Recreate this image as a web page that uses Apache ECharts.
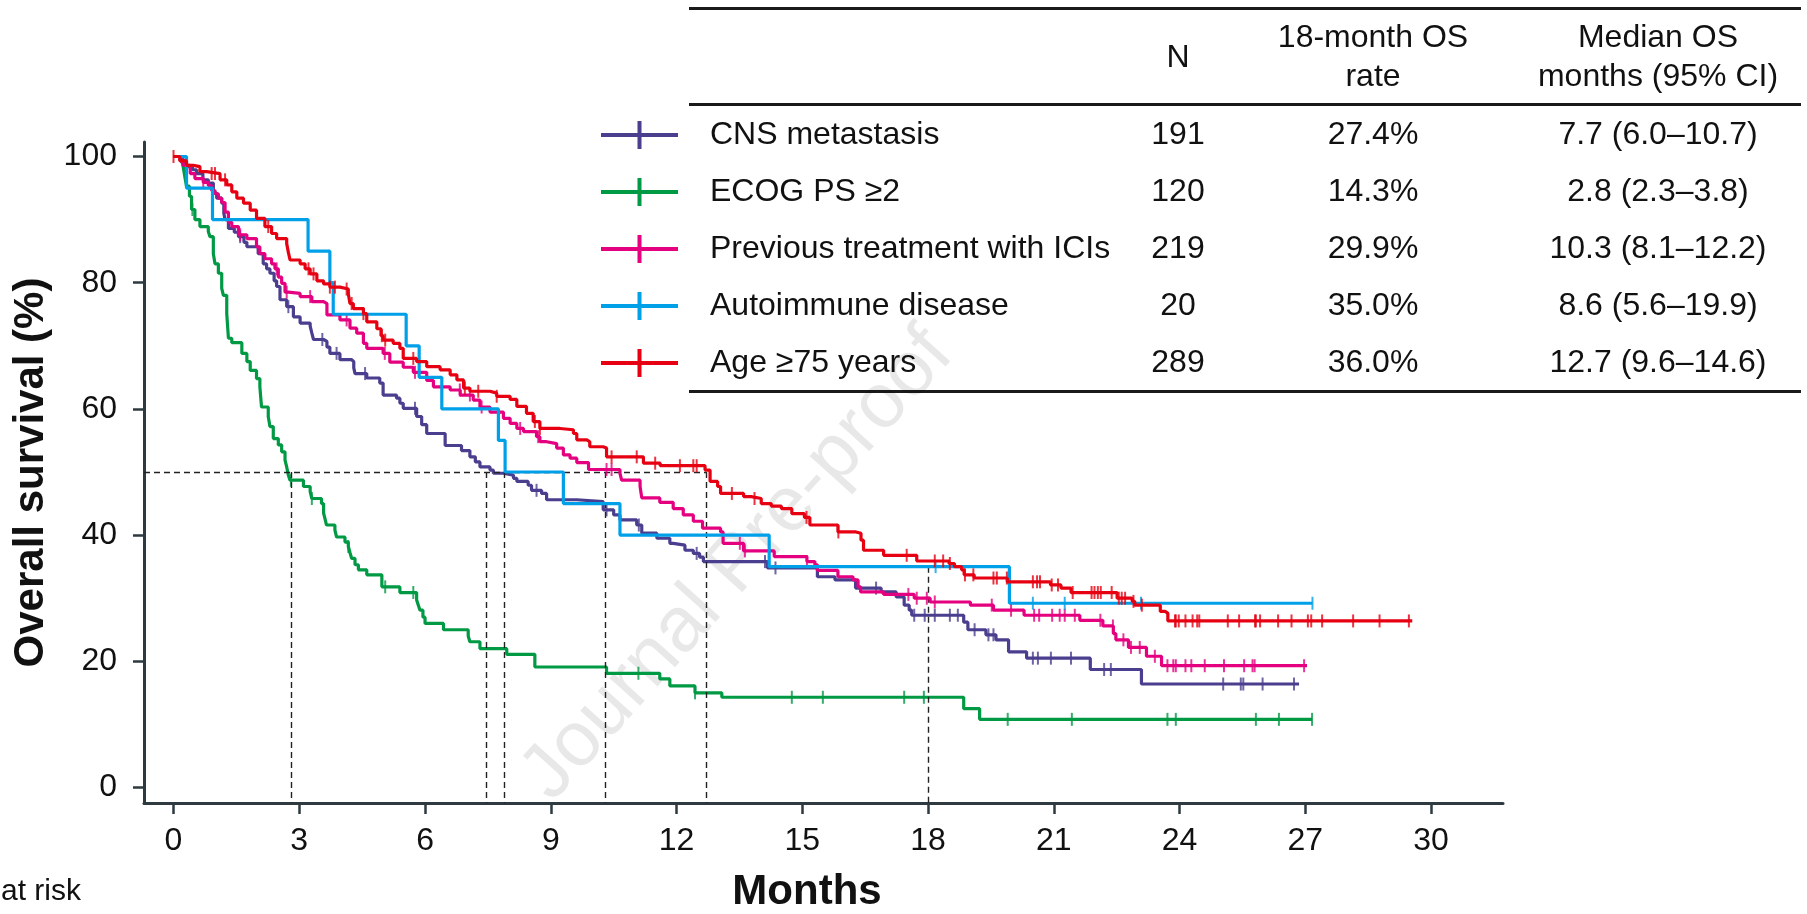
<!DOCTYPE html>
<html>
<head>
<meta charset="utf-8">
<script src="https://cdn.jsdelivr.net/npm/echarts@6/dist/echarts.min.js"></script>
<style>
html,body{margin:0;padding:0;background:#ffffff;}
#chart{width:1807px;height:914px;}
</style>
</head>
<body>
<div id="chart"></div>
<script>
// ---------------- DATA ----------------
const xTicks = [0, 3, 6, 9, 12, 15, 18, 21, 24, 27, 30];
const yTicks = [0, 20, 40, 60, 80, 100];

const groupNames = ['CNS metastasis', 'ECOG PS \u22652', 'Previous treatment with ICIs', 'Autoimmune disease', 'Age \u226575 years'];
const nValues = ['191', '120', '219', '20', '289'];
const osRates18 = ['27.4%', '14.3%', '29.9%', '35.0%', '36.0%'];
const medianOS = ['7.7 (6.0\u201310.7)', '2.8 (2.3\u20133.8)', '10.3 (8.1\u201312.2)', '8.6 (5.6\u201319.9)', '12.7 (9.6\u201314.6)'];
const tableHeaders = [['N'], ['18-month OS', 'rate'], ['Median OS', 'months (95% CI)']];

// Kaplan-Meier steps: [month, survival % after that time]
const cnsSteps = [[0,100],[0.15,99.5],[0.25,98.4],[0.45,97.9],[0.55,97.3],[0.70,96.3],[0.83,95.8],[0.95,94.2],[1.03,93.4],[1.15,92.6],[1.20,91.0],[1.23,90.0],[1.31,88.6],[1.45,88.0],[1.55,87.3],[1.68,86.4],[1.75,85.7],[2.02,84.6],[2.14,83.0],[2.22,82.2],[2.30,81.5],[2.40,80.3],[2.46,79.4],[2.54,77.3],[2.70,76.2],[2.86,74.6],[3.02,73.6],[3.26,73.1],[3.30,72.0],[3.34,71.0],[3.58,70.7],[3.66,69.8],[3.73,68.8],[3.97,67.8],[4.25,67.5],[4.30,66.5],[4.33,65.6],[4.61,64.9],[4.92,64.1],[5.00,62.2],[5.32,61.7],[5.40,60.9],[5.48,60.1],[5.80,58.8],[5.92,57.5],[6.04,56.1],[6.48,54.2],[6.87,53.4],[7.07,52.4],[7.20,51.6],[7.31,50.8],[7.55,50.3],[7.63,49.8],[7.87,49.5],[8.11,49.0],[8.19,48.5],[8.46,47.9],[8.54,47.1],[8.78,46.6],[8.90,45.6],[9.62,45.3],[10.25,44.0],[10.50,43.2],[10.65,42.4],[11.05,41.6],[11.17,40.3],[11.53,39.5],[11.84,38.7],[11.92,38.4],[12.20,37.6],[12.40,37.1],[12.55,36.5],[12.64,35.8],[14.17,34.8],[15.36,33.4],[15.78,32.9],[16.27,31.6],[16.88,31.0],[17.24,30.2],[17.43,28.9],[17.55,28.1],[17.61,27.3],[18.85,26.2],[18.95,25.0],[19.38,24.2],[19.62,23.4],[19.92,21.5],[20.35,20.5],[21.87,18.7],[23.09,16.4],[26.85,16.4]];
const cnsCensor = [1.59,2.74,3.55,3.89,4.57,5.76,8.66,10.33,11.10,12.48,14.11,14.36,16.76,17.67,17.92,18.16,18.52,18.71,19.11,19.44,19.56,20.50,20.62,20.93,21.41,22.20,22.36,25.04,25.46,25.52,25.98,26.73];

const ecogSteps = [[0,100],[0.20,99.2],[0.23,98.4],[0.27,96.8],[0.31,95.3],[0.38,93.7],[0.43,91.6],[0.51,90.0],[0.63,88.9],[0.83,88.1],[0.87,87.3],[0.95,84.6],[0.99,83.0],[1.07,81.5],[1.15,79.1],[1.19,78.0],[1.27,75.1],[1.31,71.2],[1.39,70.5],[1.63,68.8],[1.75,67.5],[1.83,66.1],[1.98,64.8],[2.06,63.5],[2.10,60.3],[2.26,58.8],[2.30,57.2],[2.38,55.3],[2.50,54.3],[2.58,53.2],[2.66,51.9],[2.70,50.8],[2.74,49.5],[2.78,48.7],[3.10,47.7],[3.26,46.9],[3.30,45.8],[3.53,45.0],[3.58,43.5],[3.61,42.7],[3.65,41.6],[3.85,40.8],[3.89,39.7],[4.09,38.9],[4.17,38.2],[4.21,37.2],[4.25,36.3],[4.33,35.3],[4.41,34.5],[4.61,33.7],[4.97,31.8],[5.40,30.9],[5.80,29.7],[5.84,28.9],[5.88,28.1],[5.95,27.0],[6.00,26.0],[6.44,25.0],[7.03,24.0],[7.07,23.1],[7.31,22.0],[7.95,21.1],[8.62,19.1],[10.33,18.1],[11.60,17.2],[11.84,16.1],[12.44,15.0],[13.08,14.3],[18.85,12.5],[19.23,10.8],[27.16,10.8]];
const ecogCensor = [0.45,2.80,3.30,4.17,5.05,5.72,11.09,12.44,14.75,15.49,17.43,17.90,19.90,21.43,23.71,23.91,25.82,26.37,27.16];

const iciSteps = [[0,100],[0.18,99.2],[0.23,98.6],[0.40,97.3],[0.51,96.5],[0.71,95.9],[0.83,95.4],[0.91,94.6],[0.99,94.1],[1.07,93.4],[1.15,92.7],[1.23,91.2],[1.31,89.6],[1.39,88.9],[1.55,87.6],[1.75,87.0],[1.98,85.7],[2.06,84.6],[2.18,83.8],[2.34,83.0],[2.42,82.2],[2.50,80.9],[2.58,79.9],[2.66,78.5],[2.74,78.3],[3.02,77.8],[3.30,77.0],[3.58,76.7],[3.66,74.9],[3.97,74.1],[4.21,72.8],[4.37,72.0],[4.53,70.4],[4.61,69.6],[5.00,68.8],[5.16,67.4],[5.48,66.6],[5.72,65.8],[6.04,64.5],[6.20,63.5],[6.60,63.0],[6.84,62.2],[7.15,61.4],[7.31,60.3],[7.55,59.5],[7.87,58.5],[8.03,57.7],[8.19,56.9],[8.35,56.4],[8.66,55.6],[8.74,54.8],[8.90,54.5],[9.14,53.8],[9.30,52.7],[9.46,52.2],[9.62,51.5],[9.90,50.4],[10.65,49.8],[10.69,48.7],[11.13,47.7],[11.17,45.9],[11.60,45.2],[11.92,44.2],[12.16,43.2],[12.40,42.2],[12.62,41.1],[13.05,40.5],[13.11,38.7],[13.60,37.5],[14.33,36.6],[15.11,35.8],[15.30,35.3],[15.36,34.4],[15.85,33.4],[16.21,32.9],[16.33,31.8],[16.39,31.0],[16.94,30.6],[17.67,30.0],[18.05,29.4],[19.01,28.9],[19.56,28.1],[20.29,27.3],[21.62,26.5],[22.17,25.6],[22.42,24.4],[22.48,23.4],[22.78,22.2],[23.21,20.8],[23.57,19.3],[27.04,19.3]];
const iciCensor = [0.71,1.59,2.46,2.70,3.26,4.13,5.04,5.76,6.83,7.07,7.35,8.27,8.70,10.33,10.45,13.51,13.63,15.11,17.53,17.73,17.97,18.16,19.52,19.98,20.53,20.65,20.96,21.14,21.26,21.50,22.11,22.41,22.66,22.84,23.05,23.41,23.71,23.85,23.91,24.14,24.28,24.60,25.06,25.54,25.74,25.79,26.97];

const autoSteps = [[0,100],[0.31,95],[0.93,90],[3.21,85],[3.73,80],[3.81,75],[5.55,70],[5.86,65],[6.40,60],[7.75,55],[7.91,50],[9.30,45],[10.65,40],[14.21,35],[19.94,29.2],[27.17,29.2]];
const autoCensor = [18.18,20.50,21.26,23.08,27.17];

const ageSteps = [[0,100],[0.15,99.3],[0.31,98.6],[0.47,98.4],[0.63,97.6],[0.79,97.3],[1.11,96.3],[1.27,95.5],[1.39,94.4],[1.51,93.4],[1.67,92.6],[1.83,91.5],[1.98,90.2],[2.18,88.9],[2.34,87.8],[2.46,87.0],[2.70,86.2],[2.74,84.8],[2.78,83.6],[3.02,83.0],[3.14,82.2],[3.26,81.4],[3.42,80.3],[3.58,79.8],[3.73,79.3],[3.97,79.0],[4.17,78.2],[4.21,76.7],[4.29,75.9],[4.53,75.1],[4.61,73.8],[4.85,72.7],[4.95,71.6],[5.00,70.9],[5.24,70.4],[5.40,69.6],[5.48,68.0],[5.80,67.5],[6.04,66.7],[6.36,66.2],[6.60,65.4],[6.76,64.6],[6.92,63.3],[7.07,62.8],[7.55,62.5],[7.71,62.0],[8.03,61.5],[8.19,60.4],[8.42,59.3],[8.58,58.0],[8.74,56.9],[9.22,56.7],[9.54,56.1],[9.62,55.1],[9.86,54.8],[9.93,54.0],[10.25,53.8],[10.33,52.4],[11.21,51.4],[11.61,51.0],[12.68,50.3],[12.80,48.5],[12.98,47.7],[13.05,46.6],[13.60,46.1],[13.78,45.8],[14.02,45.0],[14.26,44.6],[14.50,44.2],[14.75,43.4],[15.05,42.8],[15.18,41.6],[15.85,40.5],[16.28,40.3],[16.40,39.2],[16.46,37.6],[16.94,36.8],[17.73,35.9],[18.50,35.5],[18.63,35.0],[18.80,34.5],[18.86,33.7],[19.10,33.2],[19.89,32.6],[20.92,32.1],[21.17,31.6],[21.41,30.9],[22.51,30.0],[22.87,29.5],[22.93,28.9],[23.54,27.9],[23.66,27.6],[23.72,26.4],[29.55,26.4]];
const ageCensor = [0,0.91,0.99,1.23,2.26,3.22,3.34,3.73,3.85,4.13,4.25,4.53,4.97,5.05,5.72,6.95,7.27,7.71,8.62,8.74,10.45,11.05,11.49,12.08,12.40,12.48,13.32,13.86,15.10,15.86,17.49,18.16,18.36,18.52,18.88,19.08,19.56,19.64,19.88,20.50,20.60,20.67,20.95,21.10,21.45,21.90,21.97,22.05,22.12,22.38,22.55,22.62,22.70,22.90,23.10,23.89,23.91,23.98,24.14,24.31,24.42,24.47,25.15,25.42,25.80,25.82,25.92,26.35,26.67,27.06,27.14,27.40,28.14,28.77,29.47];

// guide lines
const medianGuideMonths = [2.8, 7.45, 7.9, 10.3, 12.7];
const medianLevel = 50;
const rateGuide = [18, 35];

// ---------------- STYLE ----------------
const FONT = "'Liberation Sans', Arial, Helvetica, sans-serif";
const groupColors = ['#4a3e8e', '#009944', '#e4007f', '#00a0e9', '#e60012'];
const axisColor = '#2e3a3f';
const X_MIN = -0.704, X_MAX = 31.715, Y_MIN = -2.456, Y_MAX = 102.3;

const allSteps = [cnsSteps, ecogSteps, iciSteps, autoSteps, ageSteps];
const allCensor = [cnsCensor, ecogCensor, iciCensor, autoCensor, ageCensor];

function survivalAt(steps, t) {
  let v = steps[0][1];
  for (const p of steps) { if (p[0] <= t + 1e-9) v = p[1]; else break; }
  return v;
}

const series = [];
groupNames.forEach((name, i) => {
  series.push({
    name: name,
    type: 'line',
    step: 'end',
    data: allSteps[i],
    showSymbol: false,
    symbol: 'none',
    z: 3 + i,
    itemStyle: { color: groupColors[i] },
    lineStyle: { color: groupColors[i], width: 3.2 },
    emphasis: { disabled: true },
    animation: false
  });
});
groupNames.forEach((name, i) => {
  series.push({
    name: name + ' (censored)',
    type: 'scatter',
    data: allCensor[i].map(t => [t, survivalAt(allSteps[i], t)]),
    symbol: 'rect',
    symbolSize: [2, 13],
    z: 3 + i,
    itemStyle: { color: groupColors[i] },
    emphasis: { disabled: true },
    silent: true,
    animation: false
  });
});

// dashed guide lines
const guideData = [[{ coord: [X_MIN, medianLevel] }, { coord: [medianGuideMonths[medianGuideMonths.length - 1], medianLevel] }]];
medianGuideMonths.forEach(t => guideData.push([{ coord: [t, medianLevel] }, { coord: [t, Y_MIN] }]));
guideData.push([{ coord: [rateGuide[0], rateGuide[1]] }, { coord: [rateGuide[0], Y_MIN] }]);
series.push({
  name: 'guides',
  type: 'line',
  data: [],
  silent: true,
  animation: false,
  markLine: {
    silent: true,
    animation: false,
    symbol: ['none', 'none'],
    label: { show: false },
    lineStyle: { color: '#222', width: 1.4, type: [6, 4] },
    emphasis: { disabled: true },
    data: guideData
  }
});

// table graphics
const colX = [1178, 1373, 1658];
const rowY = [135, 192.5, 249.5, 306.5, 363.5];
const graphics = [];
[8.5, 104.5, 391.5].forEach(y => graphics.push({
  type: 'line', shape: { x1: 689, y1: y, x2: 1801, y2: y },
  style: { stroke: '#1a1a1a', lineWidth: 3 }, silent: true
}));
tableHeaders.forEach((lines, c) => {
  const ys = lines.length === 1 ? [58] : [38.5, 77];
  lines.forEach((txt, k) => graphics.push({
    type: 'text', x: colX[c], y: ys[k],
    style: { text: txt, font: '32px ' + FONT, fill: '#111', align: 'center', verticalAlign: 'middle' }, silent: true
  }));
});
[nValues, osRates18, medianOS].forEach((col, c) => {
  col.forEach((txt, r) => graphics.push({
    type: 'text', x: colX[c], y: rowY[r],
    style: { text: txt, font: '32px ' + FONT, fill: '#111', align: 'center', verticalAlign: 'middle' }, silent: true
  }));
});
graphics.push({
  type: 'text', x: 1, y: 892,
  style: { text: 'at risk', font: '30px ' + FONT, fill: '#111', align: 'left', verticalAlign: 'middle' }, silent: true
});
graphics.push({
  type: 'text', x: 738, y: 565, rotation: 48 * Math.PI / 180, z: 1,
  style: { text: 'Journal Pre-proof', font: '78px ' + FONT, fill: 'rgba(0,0,0,0.09)', align: 'center', verticalAlign: 'middle' }, silent: true
});

const chart = echarts.init(document.getElementById('chart'), null, { renderer: 'canvas' });
chart.setOption({
  animation: false,
  backgroundColor: '#ffffff',
  textStyle: { fontFamily: FONT },
  grid: { left: 144, top: 142, width: 1359, height: 661, containLabel: false, outerBoundsMode: 'none' },
  legend: {
    data: groupNames,
    orient: 'vertical',
    left: 601,
    top: 119,
    padding: 0,
    itemWidth: 77,
    itemHeight: 28,
    itemGap: 25,
    icon: 'path://M0,12L77,12L77,16L0,16Z M36.5,0L40.5,0L40.5,28L36.5,28Z',
    selectedMode: false,
    textStyle: { fontSize: 32, color: '#111', fontFamily: FONT, padding: [0, 0, 0, 27] }
  },
  xAxis: {
    type: 'value',
    min: X_MIN,
    max: X_MAX,
    name: 'Months',
    nameLocation: 'middle',
    nameGap: 68,
    nameTextStyle: { fontSize: 42, fontWeight: 'bold', color: '#111', fontFamily: FONT, padding: [0, 33, 0, 0] },
    axisLine: { show: true, onZero: false, lineStyle: { color: axisColor, width: 3 } },
    axisTick: { show: true, customValues: xTicks, length: 11, lineStyle: { color: axisColor, width: 2.5 } },
    axisLabel: { show: true, customValues: xTicks, fontSize: 32, color: '#111', margin: 22, fontFamily: FONT },
    splitLine: { show: false }
  },
  yAxis: {
    type: 'value',
    min: Y_MIN,
    max: Y_MAX,
    name: 'Overall survival (%)',
    nameLocation: 'middle',
    nameGap: 84,
    nameTextStyle: { fontSize: 42, fontWeight: 'bold', color: '#111', fontFamily: FONT },
    axisLine: { show: true, onZero: false, lineStyle: { color: axisColor, width: 3 } },
    axisTick: { show: true, customValues: yTicks, length: 11, lineStyle: { color: axisColor, width: 2.5 } },
    axisLabel: { show: true, customValues: yTicks, fontSize: 32, color: '#111', margin: 27, fontFamily: FONT },
    splitLine: { show: false }
  },
  graphic: graphics,
  series: series
});
</script>
</body>
</html>
